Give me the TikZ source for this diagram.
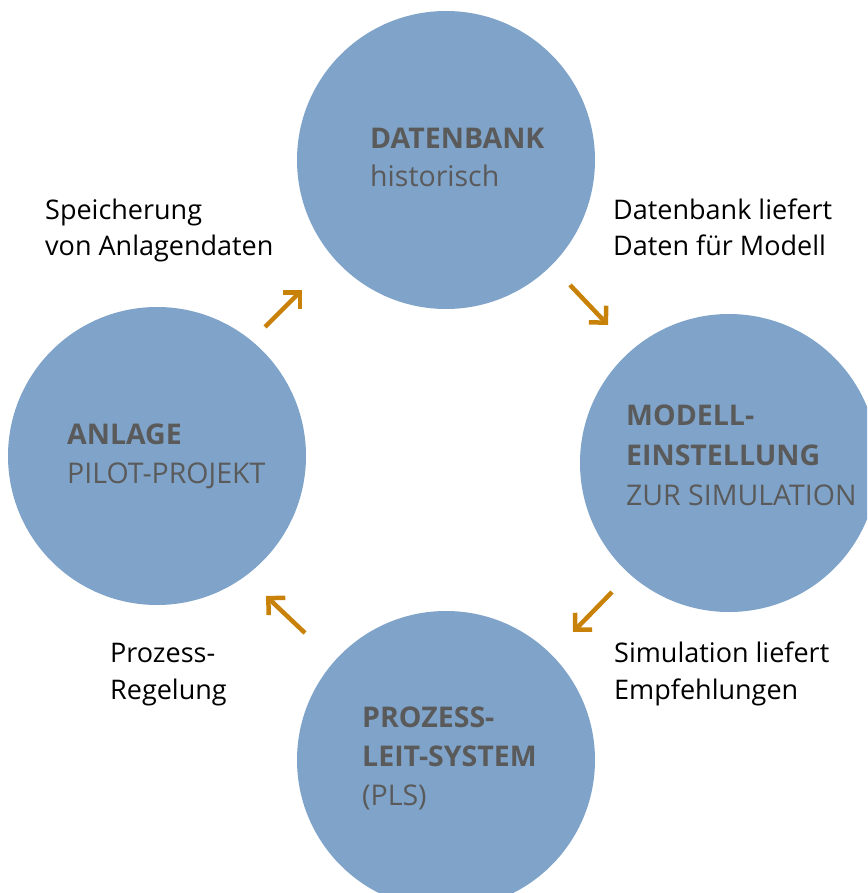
\documentclass[tikz,border=0pt]{standalone}
\usepackage{fontspec}
\setmainfont{Open Sans}
\usetikzlibrary{arrows.meta}
\definecolor{circ}{HTML}{7FA3C9}
\definecolor{ctext}{HTML}{5A5A5A}
\definecolor{arr}{HTML}{C8820A}
\begin{document}
\begin{tikzpicture}[x=1pt,y=-1pt,
  bubble/.style={circle,fill=circ,minimum size=298pt,inner sep=0pt},
  ctxt/.style={anchor=base west,inner sep=0pt,text=ctext,font=\fontsize{28.5}{34}\selectfont},
  otxt/.style={anchor=base west,inner sep=0pt,text=black,font=\fontsize{27}{32}\selectfont},
  flow/.style={draw=arr,line width=4.5pt,line join=miter,-{Straight Barb[length=12pt,width=24pt,line width=4.5pt]}}]
\useasboundingbox (0,0) rectangle (867,893);
\begin{scope}
\clip (0,0) rectangle (867,893);
\node[bubble] (db) at (446,160) {};
\node[bubble] (an) at (157,456) {};
\node[bubble] (me) at (729,463) {};
\node[bubble] (pl) at (446,760) {};
\end{scope}
% circle texts
\node[ctxt] (t1) at (370,149) {\textbf{DATENBANK}};
\node[ctxt] (t2) at (370,187) {historisch};
\node[ctxt] (t3) at (67,444) {\textbf{ANLAGE}};
\node[ctxt] (t4) at (67,483) {PILOT-PROJEKT};
\node[ctxt] (t5) at (626,425) {\textbf{MODELL-}};
\node[ctxt] (t6) at (626,465) {\textbf{EINSTELLUNG}};
\node[ctxt] (t7) at (626,505) {ZUR SIMULATION};
\node[ctxt] (t8) at (362,727) {\textbf{PROZESS-}};
\node[ctxt] (t9) at (362,766) {\textbf{LEIT-SYSTEM}};
\node[ctxt] (t10) at (362,805) {(PLS)};
% outside texts
\node[otxt] (o1) at (45,219) {Speicherung};
\node[otxt] (o2) at (45,255) {von Anlagendaten};
\node[otxt] (o3) at (613,219) {Datenbank liefert};
\node[otxt] (o4) at (613,255) {Daten für Modell};
\node[otxt] (o5) at (614,662) {Simulation liefert};
\node[otxt] (o6) at (614,699) {Empfehlungen};
\node[otxt] (o7) at (110,662) {Prozess-};
\node[otxt] (o8) at (110,699) {Regelung};
% arrows
\coordinate (a1s) at (265,327); \coordinate (a1e) at (302,290);
\coordinate (a2s) at (570,285); \coordinate (a2e) at (608,325);
\coordinate (a3s) at (612,592); \coordinate (a3e) at (573,632);
\coordinate (a4s) at (305,633); \coordinate (a4e) at (266,596);
\draw[flow] (a1s) -- (a1e);
\draw[flow] (a2s) -- (a2e);
\draw[flow] (a3s) -- (a3e);
\draw[flow] (a4s) -- (a4e);
\end{tikzpicture}
\end{document}
